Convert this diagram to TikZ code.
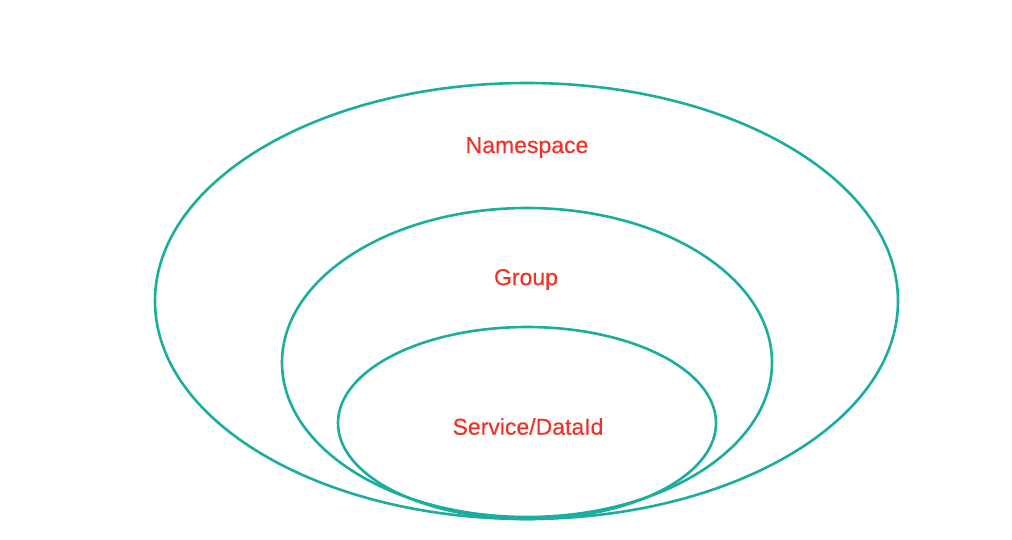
\documentclass[tikz,border=0pt]{standalone}
\usepackage{fontspec}
\setmainfont{Liberation Sans}
\newfontfamily\lblfont{Liberation Sans}[FakeBold=0.4]
\definecolor{ring}{HTML}{1BAE9C}
\definecolor{lbl}{HTML}{EE3326}
\begin{document}
\begin{tikzpicture}[x=1pt,y=-1pt,
  ringline/.style={draw=ring,line width=2.6pt},
  lab/.style={text=lbl,font=\lblfont\fontsize{23}{27}\selectfont,inner sep=0pt}]
\useasboundingbox (0,0) rectangle (1012,539);
\draw[ringline] (526.5,301) ellipse [x radius=371.5, y radius=218];
\draw[ringline] (527,362.5) ellipse [x radius=245, y radius=154.5];
\draw[ringline] (527,423) ellipse [x radius=189, y radius=96];
\node[lab] (ns) at (527,147.5) {Namespace};
\node[lab] (gr) at (526,279.5) {Group};
\node[lab] (sd) at (528,426.5) {Service/DataId};
\end{tikzpicture}
\end{document}
